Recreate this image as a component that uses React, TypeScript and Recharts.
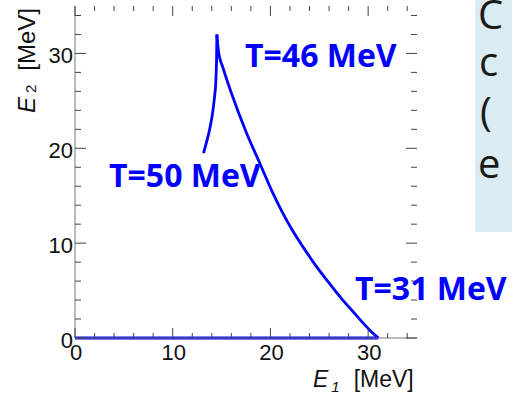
import { LineChart, Line, XAxis, YAxis } from 'recharts';

// kinematic locus (E1, E2 in MeV)
// rising branch up to the cusp
const riseE1 = [13.16, 13.5, 13.78, 14.0, 14.18, 14.3, 14.39, 14.45, 14.49, 14.52];
const riseE2 = [19.5, 20.8, 22.0, 23.2, 24.5, 25.6, 26.6, 28.0, 29.5, 32.0];
// falling branch from the cusp down to E2 = 0
const fallE1 = [14.52, 14.7, 15.14, 16.15, 17.52, 18.88, 20.24, 21.2, 22.28, 23.4, 24.66, 26.0, 27.38, 28.4, 29.42, 30.2, 31.05];
const fallE2 = [32.0, 30.1, 28.5, 25.4, 21.7, 18.5, 15.3, 13.3, 11.3, 9.5, 7.6, 5.8, 4.02, 2.85, 1.65, 0.8, 0];

// zero-energy branch along the E1 axis
const baseE1 = [0, 31.05];
const baseE2 = [0, 0];

const xTicks = [0, 2, 4, 6, 8, 10, 12, 14, 16, 18, 20, 22, 24, 26, 28, 30, 32, 34];
const yTicks = [0, 2, 4, 6, 8, 10, 12, 14, 16, 18, 20, 22, 24, 26, 28, 30, 32, 34];
const majorTicks = [0, 10, 20, 30];

const toPoints = (xs: number[], ys: number[]) => xs.map((x, i) => ({ x, y: ys[i] }));
const riseData = toPoints(riseE1, riseE2);
const fallData = toPoints(fallE1, fallE2);
const baseData = toPoints(baseE1, baseE2);

const W = 512;
const H = 397;
const MARGIN = { top: 6, right: 95, bottom: 0, left: 0 };
// frame edges, used to mirror the ticks onto the top and right sides
const PLOT_TOP = MARGIN.top;
const PLOT_RIGHT = W - MARGIN.right;

const BLUE = '#0000FF';
const FRAME = '#777';
const TICK = '#444';
const tickFont = '"Liberation Sans", Arial, sans-serif';
const calloutFont = '"Open Sans", sans-serif';

const isMajor = (v: number) => majorTicks.includes(v);

// bottom ticks point up into the plot; the same tick is repeated on the top edge
const BottomTick = ({ x, y, payload }: any) => {
  const len = isMajor(payload.value) ? 10 : 5;
  return (
    <g>
      <line x1={x} x2={x} y1={y} y2={y - len} stroke={TICK} strokeWidth={1} />
      <line x1={x} x2={x} y1={PLOT_TOP} y2={PLOT_TOP + len} stroke={TICK} strokeWidth={1} />
      {isMajor(payload.value) && (
        <text x={x + 1} y={y + 22} textAnchor="middle" fontSize={22} fontFamily={tickFont} fill="#111">
          {payload.value}
        </text>
      )}
    </g>
  );
};

// left ticks point right into the plot; the same tick is repeated on the right edge
const LeftTick = ({ x, y, payload }: any) => {
  const len = isMajor(payload.value) ? 11 : 6;
  return (
    <g>
      <line x1={x} x2={x + len} y1={y} y2={y} stroke={TICK} strokeWidth={1} />
      <line x1={PLOT_RIGHT} x2={PLOT_RIGHT - len} y1={y} y2={y} stroke={TICK} strokeWidth={1} />
      {isMajor(payload.value) && (
        <text x={x - 2} y={y + 9.5} textAnchor="end" fontSize={22} fontFamily={tickFont} fill="#111">
          {payload.value}
        </text>
      )}
    </g>
  );
};

export default function App() {
  return (
    <div style={{ position: 'absolute', left: 0, top: 0, width: W, height: H, background: '#fff' }}>
      <LineChart width={W} height={H} margin={MARGIN}>
        <XAxis
          xAxisId="b"
          dataKey="x"
          type="number"
          domain={[0, 35]}
          ticks={xTicks}
          interval={0}
          height={59}
          tickSize={0}
          tickMargin={0}
          tick={BottomTick}
          axisLine={{ stroke: FRAME }}
        />
        <XAxis
          xAxisId="t"
          orientation="top"
          dataKey="x"
          type="number"
          domain={[0, 35]}
          height={0}
          tick={false}
          tickLine={false}
          axisLine={{ stroke: FRAME }}
        />
        <YAxis
          yAxisId="l"
          type="number"
          domain={[0, 35]}
          ticks={yTicks}
          interval={0}
          width={75}
          tickSize={0}
          tickMargin={0}
          tick={LeftTick}
          axisLine={{ stroke: FRAME }}
        />
        <YAxis
          yAxisId="r"
          orientation="right"
          type="number"
          domain={[0, 35]}
          width={0}
          tick={false}
          tickLine={false}
          axisLine={{ stroke: FRAME }}
        />
        <Line
          xAxisId="b"
          yAxisId="l"
          data={baseData}
          dataKey="y"
          type="linear"
          stroke={BLUE}
          strokeWidth={3}
          dot={false}
          isAnimationActive={false}
        />
        <Line
          xAxisId="b"
          yAxisId="l"
          data={riseData}
          dataKey="y"
          type="monotoneX"
          stroke={BLUE}
          strokeWidth={2.8}
          dot={false}
          isAnimationActive={false}
        />
        <Line
          xAxisId="b"
          yAxisId="l"
          data={fallData}
          dataKey="y"
          type="monotoneX"
          stroke={BLUE}
          strokeWidth={2.8}
          dot={false}
          isAnimationActive={false}
        />
      </LineChart>

      <svg width={W} height={H} style={{ position: 'absolute', left: 0, top: 0, pointerEvents: 'none' }}>
        {/* axis titles */}
        <text x={313} y={387} fontSize={23} fontFamily={tickFont} fill="#111">
          <tspan fontStyle="italic">E</tspan>
          <tspan fontSize={15} fontStyle="italic" dx={3} dy={5}>1</tspan>
          <tspan dx={14} dy={-5}>[MeV]</tspan>
        </text>
        <text transform="translate(35,113) rotate(-90)" fontSize={24} fontFamily={tickFont} fill="#111">
          <tspan fontStyle="italic">E</tspan>
          <tspan fontSize={15} dx={4} dy={1}>2</tspan>
          <tspan dx={14} dy={-1}>[MeV]</tspan>
        </text>

        {/* temperature callouts */}
        <text x={245} y={67} fontSize={32} fontWeight="bold" fontFamily={calloutFont} fill={BLUE}>T=46 MeV</text>
        <text x={109} y={187} fontSize={32} fontWeight="bold" fontFamily={calloutFont} fill={BLUE}>T=50 MeV</text>
        <text x={355} y={300} fontSize={32} fontWeight="bold" fontFamily={calloutFont} fill={BLUE}>T=31 MeV</text>

        {/* side note box, cut by the frame */}
        <rect x={475} y={0} width={37} height={232} fill="#DAECF2" />
        <g fontSize={40} fontFamily={calloutFont} fill="#1a1a1a">
          <text x={478} y={29}>C</text>
          <text x={479} y={76}>c</text>
          <text x={480} y={126}>(</text>
          <text x={478} y={178}>e</text>
        </g>
      </svg>
    </div>
  );
}
